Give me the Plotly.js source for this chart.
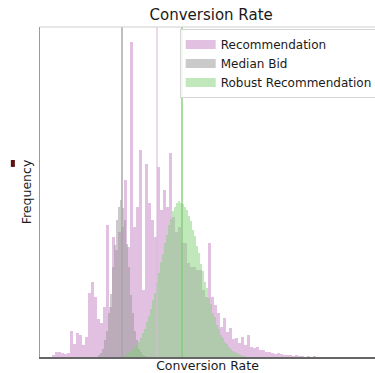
<!DOCTYPE html>
<html><head><meta charset="utf-8">
<script src="https://cdn.plot.ly/plotly-3.0.1.min.js"></script>
<style>html,body{margin:0;padding:0;background:#fff}#chart{width:375px;height:373px}</style>
</head><body><div id="chart"></div>
<script>
const seriesNames = ["Recommendation", "Median Bid", "Robust Recommendation"];

// Histogram bins (conversion rate) and frequencies
const recStart = 0.000, recWidth = 0.003;
const recCounts = [0,0,0,0,2,5,5,4,3,4, 26,13,24,22,12,20,64,75,60,38,
  34,50,132,50,120,107,125,130,177,110, 315,130,150,207,67,193,154,137,120,190,
  147,167,150,204,140,125,130,114,114,94, 90,90,87,87,67,60,114,60,52,44,
  30,39,25,29,18,19,14,20,12,22, 10,9,10,7,7,5,5,4,3,4,
  3,2,2,2,1,2,1,1,0,1, 0,1];

const bidStart = 0.058, bidWidth = 0.002;
const bidCounts = [2,4,8,17,26,44,63,90,112,137,150,157,149,137,113,90,62,44,26,17,8,5,2,1];

const robStart = 0.086, robWidth = 0.002;
const robCounts = [3,4,6,7,10,12,15,19,24,28,35,41,48,57,64,75,84,95,103,114,
  122,132,138,146,150,154,156,154,153,150,147,141,136,127,121,111,104,93,86,75,
  69,59,53,44,40,32,28,22,19,15,13,10,8,6,5,4,3,2,1,1];

// Medians: Recommendation, Median Bid, Robust Recommendation
const medians = [0.117, 0.082, 0.142];

const barColors = ['rgba(205,150,205,0.6)', 'rgba(150,150,150,0.5)', 'rgba(130,210,120,0.5)'];
const lineColors = ['rgba(220,185,220,0.7)', 'rgba(165,165,165,0.95)', 'rgba(130,205,120,0.95)'];

function centers(start, w, n) {
  const c = [];
  for (let i = 0; i < n; i++) c.push(start + w * (i + 0.5));
  return c;
}

const hist = [
  {start: recStart, w: recWidth, y: recCounts},
  {start: bidStart, w: bidWidth, y: bidCounts},
  {start: robStart, w: robWidth, y: robCounts}
];

const traces = [];
hist.forEach((h, i) => {
  traces.push({
    type: 'bar', x: centers(h.start, h.w, h.y.length), y: h.y, width: h.w,
    marker: {color: barColors[i], line: {width: 0}},
    name: seriesNames[i], legendgroup: 'g' + i, showlegend: false, hoverinfo: 'skip'
  });
});
seriesNames.forEach((n, i) => {
  traces.push({
    type: 'scatter', mode: 'lines', x: [null], y: [null], name: n, legendgroup: 'g' + i,
    line: {color: barColors[i], width: 9}, hoverinfo: 'skip'
  });
});

const shapes = medians.map((m, i) => ({
  type: 'line', xref: 'x', yref: 'paper', x0: m, x1: m, y0: 0, y1: 1,
  line: {color: lineColors[i], width: 1.5}, layer: 'above'
}));
shapes.push({type: 'line', xref: 'paper', yref: 'paper', x0: 0, x1: 1, y0: 1, y1: 1,
  line: {color: '#cfcfcf', width: 1}});
shapes.push({type: 'rect', xref: 'paper', yref: 'paper', x0: -0.087, x1: -0.075, y0: 0.576, y1: 0.597,
  fillcolor: '#5a1212', line: {width: 0}});

const font = 'DejaVu Sans, Arial, sans-serif';
const layout = {
  width: 375, height: 373,
  margin: {l: 40, r: 0, t: 27, b: 16, autoexpand: false},
  paper_bgcolor: '#fff', plot_bgcolor: '#fff',
  barmode: 'overlay', bargap: 0,
  font: {family: font, color: '#1a1a1a'},
  title: {text: 'Conversion Rate', font: {family: font, size: 15, color: '#1a1a1a'},
    xref: 'container', x: 0.563, xanchor: 'center', yref: 'container', y: 0.96, yanchor: 'middle'},
  xaxis: {range: [0, 0.335], showticklabels: false, ticks: '', showgrid: false, zeroline: false,
    showline: true, linecolor: '#666', linewidth: 1.5,
    title: {text: 'Conversion Rate', font: {family: font, size: 12.5, color: '#1a1a1a'}, standoff: 4}},
  yaxis: {range: [0, 330], showticklabels: false, ticks: '', showgrid: false, zeroline: false,
    showline: true, linecolor: '#9a9a9a', linewidth: 1.5,
    title: {text: 'Frequency', font: {family: font, size: 12.5, color: '#1a1a1a'}, standoff: 4}},
  legend: {x: 0.417, y: 0.994, xanchor: 'left', yanchor: 'top', bgcolor: 'rgba(255,255,255,0.85)',
    bordercolor: '#d6d6d6', borderwidth: 1, font: {family: font, size: 12, color: '#1a1a1a'},
    tracegroupgap: 0, itemwidth: 30},
  shapes: shapes,
  showlegend: true
};

Plotly.newPlot('chart', traces, layout, {displayModeBar: false, staticPlot: true});
</script>
</body></html>
